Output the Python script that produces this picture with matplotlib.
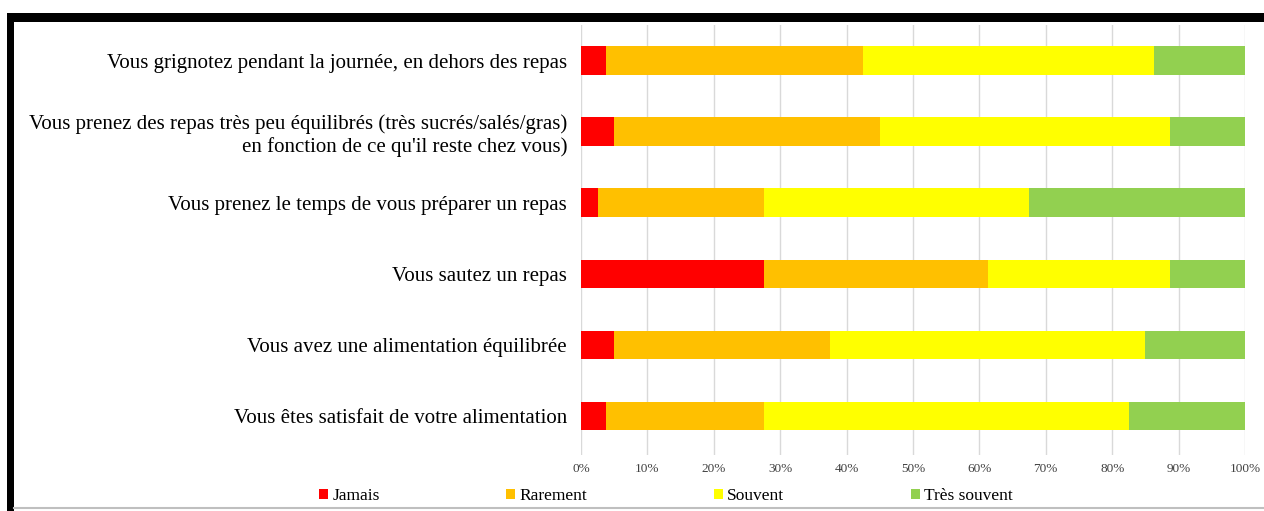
import matplotlib.pyplot as plt
import numpy as np
from matplotlib.patches import Rectangle
from matplotlib.lines import Line2D

questions = [
    "Vous grignotez pendant la journée, en dehors des repas",
    "Vous prenez des repas très peu équilibrés (très sucrés/salés/gras)\nen fonction de ce qu'il reste chez vous)",
    "Vous prenez le temps de vous préparer un repas",
    "Vous sautez un repas",
    "Vous avez une alimentation équilibrée",
    "Vous êtes satisfait de votre alimentation",
]
answers = ["Jamais", "Rarement", "Souvent", "Très souvent"]

# share of answers in %, one list per answer, same order as questions
jamais = [3.75, 5.0, 2.5, 27.5, 5.0, 3.75]
rarement = [38.75, 40.0, 25.0, 33.75, 32.5, 23.75]
souvent = [43.75, 43.75, 40.0, 27.5, 47.5, 55.0]
tres_souvent = [13.75, 11.25, 32.5, 11.25, 15.0, 17.5]

colors = ["#FF0000", "#FFC000", "#FFFF00", "#92D050"]

plt.rcParams['font.family'] = ['Liberation Serif', 'DejaVu Serif']

fig = plt.figure(figsize=(12.64, 5.11), dpi=100)
ax = fig.add_axes([581/1264, 1 - 455/511, 664/1264, 430/511])

y = np.arange(len(questions))
left = np.zeros(len(questions))
for vals, name, c in zip([jamais, rarement, souvent, tres_souvent], answers, colors):
    ax.barh(y, vals, left=left, height=0.4, color=c, label=name, linewidth=0)
    left += np.array(vals)

ax.set_ylim(len(questions) - 0.45, -0.5)
ax.set_xlim(0, 100)
ax.set_yticks(y)
ax.set_yticklabels(questions, fontsize=15, ha='right', linespacing=1.2)
ax.set_xticks(np.arange(0, 101, 10))
ax.set_xticklabels([f"{v}%" for v in range(0, 101, 10)], fontsize=9.5, color='#404040')
ax.tick_params(axis='y', length=0, pad=10)
ax.tick_params(axis='x', length=0, pad=6)
ax.grid(axis='x', color='#D9D9D9', linewidth=1)
ax.set_axisbelow(True)
for s in ax.spines.values():
    s.set_visible(False)

ax.legend(loc='center', bbox_to_anchor=(666 / 1264, 15 / 511),
          bbox_transform=fig.transFigure, ncol=4, frameon=False, fontsize=12.5,
          handlelength=0.5, handleheight=0.5, handletextpad=0.25, columnspacing=7.3)

# page frame
fig.add_artist(Rectangle((7/1264, 1 - 22/511), 1 - 7/1264, 9/511,
                         transform=fig.transFigure, color='black', lw=0))
fig.add_artist(Rectangle((7/1264, 0), 7/1264, 1 - 13/511,
                         transform=fig.transFigure, color='black', lw=0))
fig.add_artist(Line2D([14/1264, 1], [3/511, 3/511], transform=fig.transFigure,
                      color='#BFBFBF', lw=1.5))

fig.savefig('out.png', dpi=100)
